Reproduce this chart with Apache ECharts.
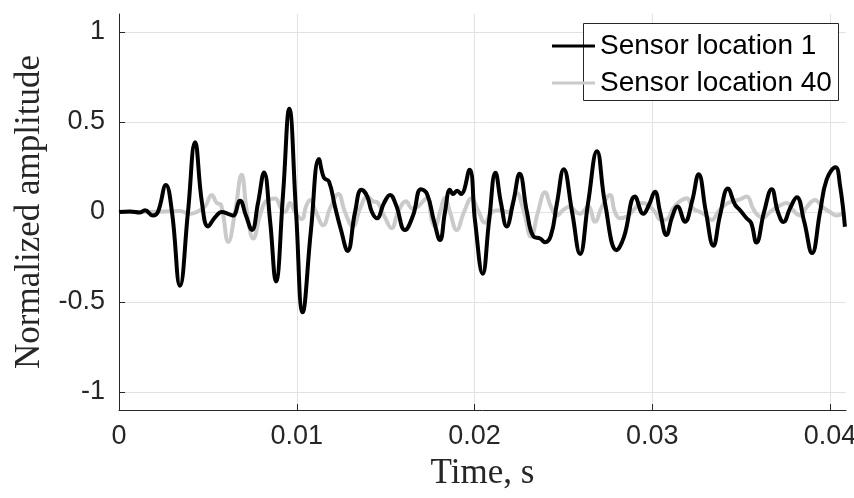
<!DOCTYPE html>
<html>
<head>
<meta charset="utf-8">
<script src="https://cdn.jsdelivr.net/npm/echarts@6/dist/echarts.min.js"></script>
<style>html,body{margin:0;padding:0;background:#fff}#c{width:854px;height:498px}</style>
</head>
<body>
<div id="c"></div>
<script>
var xTicks = [0, 0.01, 0.02, 0.03, 0.04];
var yTicks = [-1, -0.5, 0, 0.5, 1];

var sensor1Time = [0,0.00062,0.00118,0.00146,0.00191,0.00219,0.00264,0.00298,0.00343,0.00388,0.00428,0.00467,0.00501,0.00540,0.00579,0.00613,0.00641,0.00681,0.00714,0.00748,0.00782,0.00816,0.00850,0.00883,0.00923,0.00958,0.00996,0.01033,0.01080,0.01125,0.01153,0.01181,0.01215,0.01249,0.01286,0.01328,0.01364,0.01395,0.01423,0.01451,0.01491,0.01525,0.01558,0.01609,0.01654,0.01699,0.01733,0.01772,0.01806,0.01834,0.01862,0.01879,0.01902,0.01924,0.01972,0.02003,0.02046,0.02082,0.02118,0.02149,0.02181,0.02217,0.02254,0.02295,0.02331,0.02369,0.02397,0.02430,0.02464,0.02502,0.02549,0.02594,0.02639,0.02689,0.02734,0.02800,0.02841,0.02903,0.02950,0.02982,0.03015,0.03044,0.03080,0.03111,0.03142,0.03184,0.03224,0.03261,0.03302,0.03344,0.03381,0.03426,0.03466,0.03494,0.03531,0.03556,0.03586,0.03629,0.03672,0.03707,0.03738,0.03775,0.03813,0.03854,0.03899,0.03944,0.03981,0.04031,0.04056,0.04084];
var sensor1Amp = [0,0.003,-0.003,0.01,-0.02,0.0,0.15,0.0,-0.41,0.0,0.387,0.05,-0.08,-0.03,0.0,-0.01,-0.02,0.063,-0.02,-0.1,0.05,0.22,-0.05,-0.386,0.1,0.574,0.0,-0.557,-0.1,0.294,0.19,0.17,0.03,-0.1,-0.216,0.0,0.123,0.09,0.0,-0.035,0.05,0.095,0.04,-0.1,-0.02,0.127,0.1,-0.05,-0.156,0.0,0.123,0.1,0.118,0.1,0.235,-0.05,-0.343,-0.05,0.218,0.05,-0.08,0.05,0.212,0.0,-0.135,-0.147,-0.168,-0.13,0.05,0.238,0.0,-0.233,0.05,0.337,0.05,-0.212,-0.138,0.086,-0.01,0.04,0.113,0.0,-0.128,-0.03,0.03,-0.054,0.06,0.21,0.0,-0.188,-0.02,0.13,0.04,0.01,-0.035,-0.06,-0.17,0.0,0.127,0.0,-0.056,0.02,0.082,-0.05,-0.228,0.0,0.18,0.248,0.15,-0.082];

var sensor40Time = [0,0.00174,0.00343,0.00399,0.00456,0.00484,0.00522,0.00550,0.00574,0.00615,0.00653,0.00690,0.00720,0.00756,0.00793,0.00827,0.00878,0.00911,0.00934,0.00962,0.00990,0.01028,0.01052,0.01075,0.01108,0.01149,0.01187,0.01234,0.01271,0.01316,0.01356,0.01398,0.01429,0.01457,0.01496,0.01534,0.01570,0.01615,0.01648,0.01682,0.01731,0.01761,0.01778,0.01806,0.01834,0.01862,0.01900,0.01941,0.01984,0.02020,0.02059,0.02098,0.02143,0.02188,0.02237,0.02278,0.02318,0.02357,0.02397,0.02430,0.02464,0.02498,0.02537,0.02571,0.02594,0.02639,0.02678,0.02717,0.02762,0.02790,0.02819,0.02864,0.02903,0.02941,0.02976,0.03015,0.03049,0.03083,0.03117,0.03156,0.03194,0.03229,0.03269,0.03302,0.03334,0.03370,0.03409,0.03454,0.03494,0.03531,0.03567,0.03595,0.03625,0.03662,0.03707,0.03756,0.03792,0.03831,0.03871,0.03916,0.03955,0.04000,0.04038,0.04084];
var sensor40Amp = [0,0.0,0.005,-0.01,0.01,0.03,0.095,0.05,0.04,-0.166,0.0,0.207,0.0,-0.147,-0.02,0.06,0.075,0.02,0.0,0.05,0.0,-0.04,0.03,0.067,0.0,-0.073,0.02,0.1,0.0,-0.08,0.02,0.086,0.06,0.05,-0.03,-0.09,0.0,0.06,0.02,0.03,0.077,-0.05,-0.08,0.0,0.078,0.0,-0.1,0.0,0.077,0.01,-0.06,0.0,0.01,0.0,0.105,0.0,-0.138,0.0,0.11,0.03,-0.02,0.01,0.03,0.0,-0.01,0.03,-0.054,0.03,0.095,0.0,-0.035,-0.02,0.02,0.05,0.04,0.0,-0.045,-0.04,0.02,0.06,0.077,0.02,0.0,-0.02,-0.045,0.0,0.04,0.06,0.07,0.086,0.02,-0.02,-0.03,0.0,0.03,0.05,0.01,-0.02,0.03,0.067,0.03,0.0,-0.02,0.0];

function pairs(t, v) { return t.map(function (x, i) { return [x, v[i]]; }); }

var chart = echarts.init(document.getElementById('c'), null, {renderer: 'canvas'});
var axisCol = '#262626';
var tickFont = {fontFamily: 'Liberation Sans', fontSize: 27, color: axisCol};
var token = 'path://M0,0L40,0L40,3L0,3Z';
chart.setOption({
  animation: false,
  backgroundColor: '#ffffff',
  grid: {left: 119, right: 8, top: 14, bottom: 88, containLabel: false, outerBoundsMode: 'none'},
  graphic: [{
    type: 'rect', left: 583, top: 23, z: 4,
    shape: {width: 255, height: 77},
    style: {fill: '#ffffff', stroke: axisCol, lineWidth: 1}
  }],
  legend: {
    orient: 'vertical', left: 552, top: 31, z: 6,
    itemWidth: 43, itemHeight: 14, itemGap: 7,
    padding: 0,
    textStyle: {fontFamily: 'Liberation Sans', fontSize: 28, lineHeight: 30, color: '#000'},
    data: [{name: 'Sensor location 1', icon: token},
           {name: 'Sensor location 40', icon: token}]
  },
  xAxis: {
    type: 'value', min: 0, max: 0.0409,
    name: 'Time, s', nameLocation: 'middle', nameGap: 46,
    nameTextStyle: {fontFamily: 'Liberation Serif', fontSize: 35, color: axisCol},
    axisLine: {show: true, onZero: false, lineStyle: {color: axisCol, width: 1}},
    axisTick: {show: true, inside: true, length: 6, customValues: xTicks, lineStyle: {color: axisCol}},
    axisLabel: Object.assign({customValues: xTicks, margin: 13, formatter: function (v) { return String(v); }}, tickFont),
    splitLine: {show: true, lineStyle: {color: '#e2e2e2', width: 1}}
  },
  yAxis: {
    type: 'value', min: -1.1, max: 1.1,
    name: 'Normalized amplitude', nameLocation: 'middle', nameGap: 72, nameRotate: 90,
    nameTextStyle: {fontFamily: 'Liberation Serif', fontSize: 35, color: axisCol},
    axisLine: {show: true, onZero: false, lineStyle: {color: axisCol, width: 1}},
    axisTick: {show: true, inside: true, length: 6, customValues: yTicks, lineStyle: {color: axisCol}},
    axisLabel: Object.assign({customValues: yTicks, margin: 14, formatter: function (v) { return String(v); }}, tickFont),
    splitLine: {show: true, lineStyle: {color: '#e2e2e2', width: 1}}
  },
  series: [
    {name: 'Sensor location 1', type: 'line', data: pairs(sensor1Time, sensor1Amp),
     showSymbol: false, symbol: 'none', smooth: 0.45, z: 3,
     lineStyle: {color: '#000000', width: 4}, itemStyle: {color: '#000000'}},
    {name: 'Sensor location 40', type: 'line', data: pairs(sensor40Time, sensor40Amp),
     showSymbol: false, symbol: 'none', smooth: 0.45, z: 2,
     lineStyle: {color: '#cacaca', width: 4}, itemStyle: {color: '#cacaca'}}
  ]
});
</script>
</body>
</html>
